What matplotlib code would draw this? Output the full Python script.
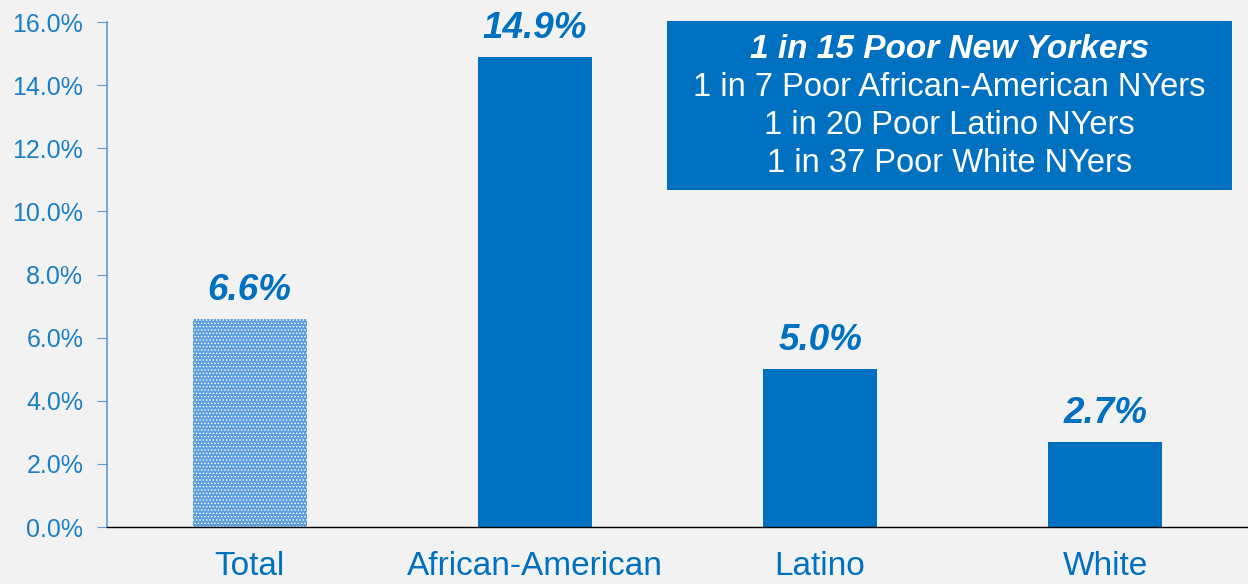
import matplotlib.pyplot as plt
from matplotlib.patches import Rectangle

plt.rcParams['font.family'] = ['Liberation Sans', 'DejaVu Sans']
plt.rcParams['hatch.linewidth'] = 0.6

categories = ["Total", "African-American", "Latino", "White"]
values = [6.6, 14.9, 5.0, 2.7]
value_labels = ["6.6%", "14.9%", "5.0%", "2.7%"]
yticks = [0, 2, 4, 6, 8, 10, 12, 14, 16]
box_title = "1 in 15 Poor New Yorkers"
box_lines = ["1 in 7 Poor African-American NYers",
             "1 in 20 Poor Latino NYers",
             "1 in 37 Poor White NYers"]

blue = '#0070c0'
bg = '#f2f2f2'

fig = plt.figure(figsize=(12.48, 5.84), dpi=100, facecolor=bg)
ax = fig.add_axes([0.0857, 0.0976, 0.9143, 0.8647])
ax.set_facecolor(bg)

x = range(len(categories))
bars = ax.bar(x, values, width=0.4, color=blue, linewidth=0)
# the "Total" bar is drawn with a dotted fill
bars[0].set_facecolor('#5c9fdc')
bars[0].set_hatch('.....')
bars[0].set_edgecolor('white')

for i, (v, lab) in enumerate(zip(values, value_labels)):
    ax.text(i, v + 0.35, lab, ha='center', va='bottom', fontsize=26.5,
            fontweight='bold', fontstyle='italic', color=blue)

ax.set_xlim(-0.5, 3.5)
ax.set_ylim(0, 16)
ax.set_yticks(yticks)
ax.set_yticklabels([f"{t:.1f}%" for t in yticks], fontsize=18, color='#1a7fc4')
ax.set_xticks(list(x))
ax.set_xticklabels(categories, fontsize=24, color=blue)
ax.tick_params(axis='x', length=0, pad=17)
ax.tick_params(axis='y', length=7, color='#5b9bd5', pad=10)

ax.spines['top'].set_visible(False)
ax.spines['right'].set_visible(False)
ax.spines['left'].set_color('#5b9bd5')
ax.spines['left'].set_linewidth(1.2)
ax.spines['bottom'].set_color('black')
ax.spines['bottom'].set_linewidth(1.0)

# text box
W, H = 1248, 584
fig.patches.append(Rectangle((667 / W, 1 - 190 / H), (1232 - 667) / W, (190 - 21) / H,
                             transform=fig.transFigure, facecolor=blue, edgecolor='none',
                             zorder=5))
cx = 949.5 / W
fig.text(cx, 1 - 49 / H, box_title, ha='center', va='center', fontsize=24,
         fontweight='bold', fontstyle='italic', color='white', zorder=6)
for k, line in enumerate(box_lines):
    fig.text(cx, 1 - (88 + 38 * k) / H, line, ha='center', va='center', fontsize=23.5,
             color='white', zorder=6)

fig.savefig('out.png', dpi=100, facecolor=bg)
